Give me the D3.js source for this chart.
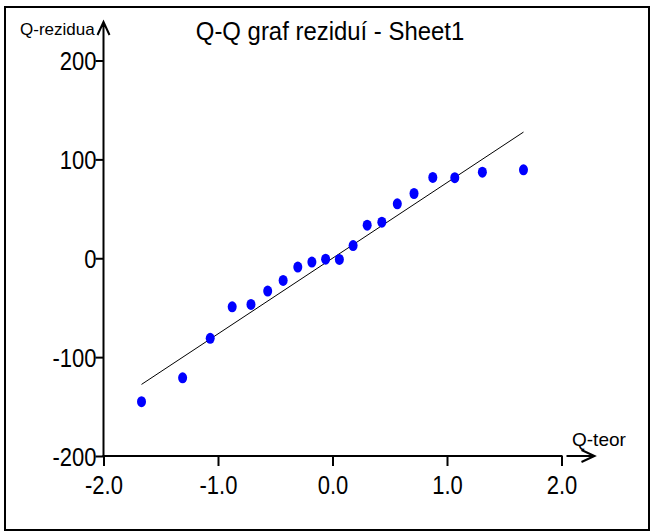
<!DOCTYPE html>
<html>
<head>
<meta charset="utf-8">
<script src="https://cdn.jsdelivr.net/npm/d3@7"></script>
<style>
  body { margin: 0; background: #fff; }
</style>
</head>
<body>
<div id="chart"></div>
<script>
// Q-Q plot of residuals — theoretical quantiles vs. sorted residuals
const qTheor = [-1.668, -1.309, -1.068, -0.876, -0.712, -0.566, -0.431, -0.303, -0.180, -0.060,
                0.060, 0.180, 0.303, 0.431, 0.566, 0.712, 0.876, 1.068, 1.309, 1.668];
const residuals = [-145.1, -120.9, -81.0, -49.1, -46.7, -33.2, -22.4, -8.9, -3.9, -0.9,
                   -1.2, 12.8, 33.5, 36.5, 55.0, 65.5, 81.7, 81.5, 87.1, 89.4];
const fitX = [-1.668, 1.668];
const fitY = [-127.6, 127.6];
const xTicks = [-2, -1, 0, 1, 2];
const yTicks = [-200, -100, 0, 100, 200];
const title = 'Q-Q graf reziduí - Sheet1';
const xLabel = 'Q-teor';
const yLabel = 'Q-rezidua';

const W = 652, H = 532;
const FONT = '"Liberation Sans", Arial, sans-serif';

const svg = d3.select('#chart').append('svg')
  .attr('width', W)
  .attr('height', H)
  .style('font-family', FONT);

// outer frame
svg.append('rect')
  .attr('x', 5).attr('y', 7)
  .attr('width', 644).attr('height', 523)
  .attr('fill', 'none')
  .attr('stroke', '#000')
  .attr('stroke-width', 2);

const x = d3.scaleLinear().domain([-2, 2]).range([103.5, 561.5]);
const y = d3.scaleLinear().domain([-200, 200]).range([456, 60.5]);

// x axis ticks + labels
const gx = svg.append('g')
  .attr('transform', `translate(0,${y(-200)})`)
  .call(d3.axisBottom(x).tickValues(xTicks).tickSize(10).tickSizeOuter(0)
    .tickFormat(d => d.toFixed(1)));
gx.select('.domain').remove();
gx.selectAll('line').attr('stroke', '#000').attr('stroke-width', 2);
gx.selectAll('text')
  .attr('fill', '#000')
  .attr('font-family', FONT)
  .attr('font-size', 25)
  .attr('y', 20)
  .attr('transform', 'scale(0.88,1)');

// y axis ticks + labels
const gy = svg.append('g')
  .attr('transform', `translate(${x(-2)},0)`)
  .call(d3.axisLeft(y).tickValues(yTicks).tickSize(8).tickSizeOuter(0)
    .tickFormat(d => String(d)));
gy.select('.domain').remove();
gy.selectAll('line').attr('stroke', '#000').attr('stroke-width', 2);
gy.selectAll('text')
  .attr('fill', '#000')
  .attr('font-family', FONT)
  .attr('font-size', 25)
  .attr('x', -8)
  .attr('dy', '0.36em')
  .attr('transform', 'scale(0.88,1)');

// axis lines with arrows
const x0 = x(-2), xEnd = x(2), y0 = y(-200);
svg.append('path')
  .attr('d', `M${x0 - 1},${y0}H${xEnd + 1}M${xEnd + 5},${y0}H${xEnd + 33}M${xEnd + 20},${y0 - 6}L${xEnd + 33},${y0}L${xEnd + 20},${y0 + 6}`)
  .attr('fill', 'none').attr('stroke', '#000').attr('stroke-width', 2);
svg.append('path')
  .attr('d', `M${x0},${y0 + 1}V22M${x0 - 6},35L${x0},22L${x0 + 6},35`)
  .attr('fill', 'none').attr('stroke', '#000').attr('stroke-width', 2);

// fitted line
svg.append('path')
  .datum(d3.zip(fitX, fitY))
  .attr('d', d3.line().x(d => x(d[0])).y(d => y(d[1])))
  .attr('fill', 'none')
  .attr('stroke', '#000')
  .attr('stroke-width', 1);

// points
svg.selectAll('ellipse.pt')
  .data(d3.zip(qTheor, residuals))
  .enter().append('ellipse')
  .attr('class', 'pt')
  .attr('cx', d => x(d[0]))
  .attr('cy', d => y(d[1]))
  .attr('rx', 4.5)
  .attr('ry', 5.5)
  .attr('fill', '#0000ff');

// texts
svg.append('text')
  .attr('transform', 'translate(330,40) scale(0.92,1)')
  .attr('text-anchor', 'middle')
  .attr('font-size', 26)
  .text(title);

svg.append('text')
  .attr('x', 20).attr('y', 34.5)
  .attr('font-size', 17)
  .text(yLabel);

svg.append('text')
  .attr('x', 572).attr('y', 446)
  .attr('font-size', 19)
  .text(xLabel);
</script>
</body>
</html>
